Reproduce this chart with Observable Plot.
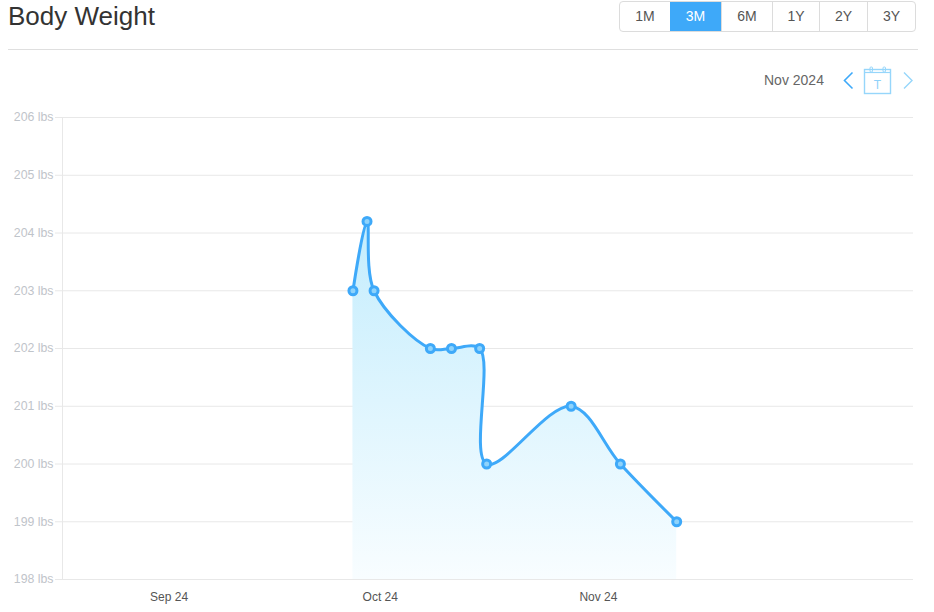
<!DOCTYPE html>
<html><head><meta charset="utf-8">
<script src="https://cdn.jsdelivr.net/npm/d3@7"></script>
<script src="https://cdn.jsdelivr.net/npm/@observablehq/plot@0.6"></script>
<style>
html,body{margin:0;padding:0;background:#fff;overflow:hidden}
body{width:934px;height:612px;position:relative;font-family:"Liberation Sans",Helvetica,Arial,sans-serif}
#title{position:absolute;left:8px;top:0;font-size:26px;line-height:32px;color:#333;font-weight:400;margin:0}
#divider{position:absolute;left:8px;top:49px;width:910px;height:1px;background:#dfdfdf}
#range{position:absolute;left:619px;top:1px;width:295px;height:28.5px;border:1px solid #dcdcdc;border-radius:4px;display:flex;box-sizing:content-box}
#range span{display:flex;align-items:center;justify-content:center;font-size:14px;color:#555;border-left:1px solid #dcdcdc;box-sizing:border-box}
#range span:first-child{border-left:0}
#range span.on{background:#3ea9f9;color:#fff;border-left:0}
#month{position:absolute;left:764px;top:72px;font-size:14px;line-height:17px;color:#666}
#nav{position:absolute;left:838px;top:62px}
#chart{position:absolute;left:0;top:100px}
#chart svg{display:block}
</style></head><body>
<h1 id="title">Body Weight</h1>
<div id="range"></div>
<div id="divider"></div>
<div id="month">Nov 2024</div>
<svg id="nav" width="80" height="36" fill="none">
<path d="M14.5 10.5 L6.5 18.5 L14.5 26.5" stroke="#3ea9f9" stroke-width="1.6"/>
<rect x="26.5" y="7.5" width="26" height="24" stroke="#96d6fb" stroke-width="1.4"/>
<path d="M26.5 10.5 H52.5" stroke="#96d6fb" stroke-width="1.2"/>
<rect x="32" y="5" width="2.5" height="5" rx="1" stroke="#96d6fb"/>
<rect x="45" y="5" width="2.5" height="5" rx="1" stroke="#96d6fb"/>
<text x="39.5" y="27" text-anchor="middle" font-size="12" fill="#8fd2fa" font-family="Liberation Sans">T</text>
<path d="M66 10.5 L74 18.5 L66 26.5" stroke="#96d6fb" stroke-width="1.4"/>
</svg>
<div id="chart"></div>
<script>
const rangeLabels = ["1M","3M","6M","1Y","2Y","3Y"];
const rangeWidths = [50,51,51,47,48,48];
const activeRange = "3M";
const dates = ["2024-09-27","2024-09-29","2024-09-30","2024-10-08","2024-10-11","2024-10-15","2024-10-16","2024-10-28","2024-11-04","2024-11-12"];
const weights = [203,204.2,203,202,202,202,200,201,200,199];
const yTicks = [198,199,200,201,202,203,204,205,206];
const xTickDates = ["2024-09-01","2024-10-01","2024-11-01"];
const xTickLabels = ["Sep 24","Oct 24","Nov 24"];

const rangeEl = document.getElementById("range");
rangeLabels.forEach((t,i)=>{
  const s=document.createElement("span");
  s.textContent=t; s.style.width=rangeWidths[i]+"px";
  if(t===activeRange) s.className="on";
  rangeEl.appendChild(s);
});

const rows = dates.map((d,i)=>({date:new Date(d+"T03:00:00Z"),weight:weights[i]}));
const xt = xTickDates.map(d=>new Date(d+"T00:00:00Z"));
const xStart = new Date("2024-08-16T20:36:00Z");
const xEnd = new Date("2024-12-15T18:30:00Z");
const curve = "catmull-rom";
const gradient = () => {
  const ns="http://www.w3.org/2000/svg";
  const defs=document.createElementNS(ns,"defs");
  defs.innerHTML=`<linearGradient id="wg" x1="0" y1="0" x2="0" y2="1"><stop offset="0" stop-color="#c4edfd"/><stop offset="1" stop-color="#f8fdff"/></linearGradient>`;
  return defs;
};
const plot = Plot.plot({
  width:934, height:512,
  marginTop:17, marginBottom:33, marginLeft:62, marginRight:21,
  style:{fontFamily:"'Liberation Sans',Helvetica,Arial,sans-serif",background:"#fff"},
  x:{type:"utc",domain:[xStart,xEnd]},
  y:{domain:[198,206]},
  marks:[
    gradient,
    Plot.ruleY(yTicks,{stroke:"#e8e8e8",strokeWidth:1,strokeOpacity:1}),
    Plot.ruleX([xStart],{stroke:"#e8e8e8",strokeWidth:1}),
    Plot.areaY(rows,{x:"date",y1:198,y2:"weight",curve,tension:0.5,fill:"url(#wg)"}),
    Plot.lineY(rows,{x:"date",y:"weight",curve,tension:0.5,stroke:"#3ea9f9",strokeWidth:3}),
    Plot.dot(rows,{x:"date",y:"weight",r:4,fill:"#8fd3fb",stroke:"#3ea9f9",strokeWidth:3}),
    Plot.axisY({ticks:yTicks,tickFormat:d=>d+" lbs",tickSize:7,tickPadding:2,stroke:"#e8e8e8",fill:"#bfc4ca",fontSize:12.3,label:null}),
    Plot.axisX({ticks:xt,tickFormat:d=>xTickLabels[xt.findIndex(v=>+v===+d)],tickSize:0,tickPadding:13,fill:"#555",fontSize:12,label:null})
  ]
});
document.getElementById("chart").appendChild(plot);
</script>
</body></html>
